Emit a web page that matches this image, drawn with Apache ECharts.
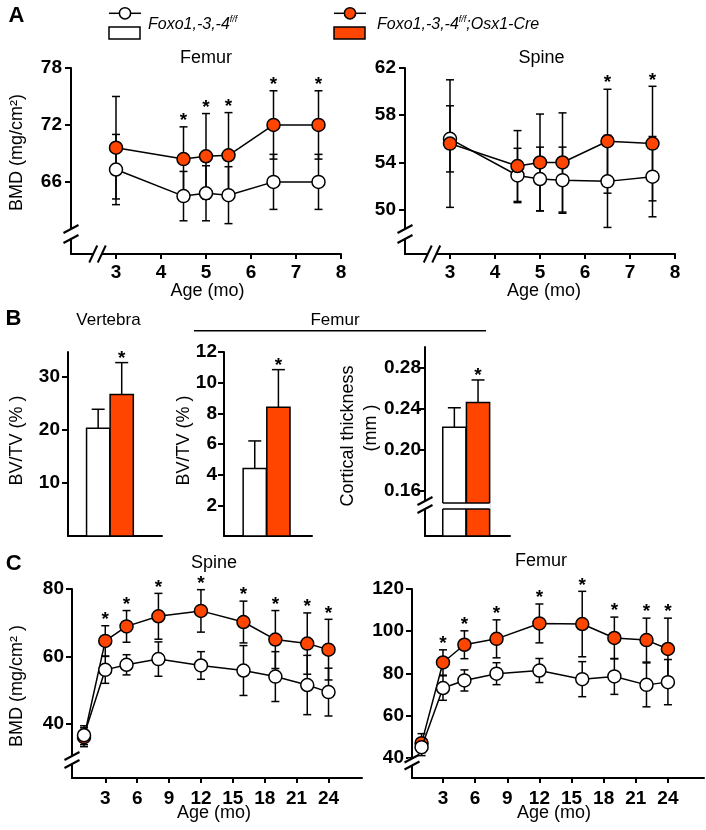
<!DOCTYPE html>
<html><head><meta charset="utf-8">
<script src="https://cdn.jsdelivr.net/npm/echarts@6/dist/echarts.min.js"></script>
<style>html,body{margin:0;padding:0;background:#fff}#c{width:706px;height:830px}</style>
</head><body><div id="c"></div>
<script>
// ---------- DATA ----------
// Panel A (age in months)
const ageA = [3, 4.5, 5, 5.5, 6.5, 7.5];
const ageATicks = [3, 4, 5, 6, 7, 8];
const femurA_ctrl = [67.3, 64.5, 64.8, 64.6, 66.0, 66.0];
const femurA_ctrlErr = [3.7, 2.6, 2.9, 3.0, 2.9, 2.9];
const femurA_cko = [69.6, 68.4, 68.7, 68.8, 72.0, 72.0];
const femurA_ckoErr = [5.4, 3.4, 4.5, 4.5, 3.6, 3.6];
const femurA_sig = [0, 1, 1, 1, 1, 1];
const femurA_yTicks = [66, 72, 78];
const spineA_ctrl = [56.0, 52.9, 52.6, 52.5, 52.4, 52.8];
const spineA_ctrlErr = [2.8, 2.3, 2.7, 2.8, 3.9, 3.4];
const spineA_cko = [55.6, 53.7, 54.0, 54.0, 55.8, 55.6];
const spineA_ckoErr = [5.4, 3.0, 4.1, 4.2, 4.4, 4.85];
const spineA_sig = [0, 0, 0, 0, 1, 1];
const spineA_yTicks = [50, 54, 58, 62];
// Panel B (groups: Foxo1,-3,-4 f/f ; Foxo1,-3,-4 f/f;Osx1-Cre)
const groupsB = ['Foxo1,-3,-4 f/f', 'Foxo1,-3,-4 f/f;Osx1-Cre'];
const vertBVTV = [20.3, 26.7];
const vertBVTVErr = [3.6, 6.0];
const vertSig = [0, 1];
const vertTicks = [10, 20, 30];
const femBVTV = [4.4, 8.4];
const femBVTVErr = [1.8, 2.45];
const femSig = [0, 1];
const femTicks = [2, 4, 6, 8, 10, 12];
const cortTh = [0.222, 0.246];
const cortThErr = [0.019, 0.022];
const cortSig = [0, 1];
const cortTicks = [0.16, 0.20, 0.24, 0.28];
// Panel C (age in months)
const ageC = [1, 3, 5, 8, 12, 16, 19, 22, 24];
const ageCTicks = [3, 6, 9, 12, 15, 18, 21, 24];
const spineC_ctrl = [36.6, 56.0, 57.5, 59.2, 57.3, 55.8, 54.0, 51.5, 49.4];
const spineC_ctrlErr = [2.8, 4.0, 3.0, 5.1, 4.1, 7.4, 7.4, 8.8, 7.1];
const spineC_cko = [36.0, 64.6, 68.9, 71.9, 73.5, 70.2, 65.0, 63.8, 62.0];
const spineC_ckoErr = [2.8, 4.5, 4.7, 6.8, 6.3, 6.2, 8.6, 9.1, 9.0];
const spineC_sig = [0, 1, 1, 1, 1, 1, 1, 1, 1];
const spineC_yTicks = [40, 60, 80];
const femurC_ctrl = [45.1, 73.1, 76.7, 79.9, 81.4, 77.3, 78.6, 74.6, 75.9];
const femurC_ctrlErr = [4.0, 5.8, 5.0, 5.2, 5.7, 8.3, 8.5, 10.4, 10.7];
const femurC_cko = [47.0, 85.2, 93.6, 96.4, 103.7, 103.4, 96.8, 95.8, 91.6];
const femurC_ckoErr = [4.5, 6.0, 6.6, 9.0, 9.2, 15.5, 9.9, 10.4, 14.6];
const femurC_sig = [0, 1, 1, 1, 1, 1, 1, 1, 1];
const femurC_yTicks = [40, 60, 80, 100, 120];

// ---------- STYLE ----------
const FONT = 'Liberation Sans, Arial, Helvetica, sans-serif';
const ORANGE = '#ff4500';
const chart = echarts.init(document.getElementById('c'));

const grids = [
  {left: 71, top: 68, width: 270, height: 186},   // A femur
  {left: 405, top: 68, width: 270, height: 186},  // A spine
  {left: 68, top: 352, width: 94, height: 184},   // B vertebra
  {left: 224, top: 352, width: 88, height: 184},  // B femur
  {left: 425, top: 347, width: 85, height: 189},  // B cortical
  {left: 72, top: 589, width: 290, height: 189},  // C spine
  {left: 412, top: 589, width: 292, height: 189}  // C femur
];

function xAx(g, min, max, ticks, margin) {
  return {gridIndex: g, type: 'value', min, max,
    axisLine: {show: true, onZero: false, lineStyle: {color: '#000', width: 2}},
    axisTick: ticks ? {show: true, customValues: ticks, length: 5, lineStyle: {color: '#000', width: 2}} : {show: false},
    axisLabel: ticks ? {show: true, customValues: ticks, margin: margin, color: '#000', fontFamily: FONT, fontSize: 19, fontWeight: 'bold'} : {show: false},
    splitLine: {show: false}};
}
function yAx(g, min, max, ticks, margin, fmt) {
  return {gridIndex: g, type: 'value', min, max,
    axisLine: {show: true, onZero: false, lineStyle: {color: '#000', width: 2}},
    axisTick: {show: true, customValues: ticks, length: 6, lineStyle: {color: '#000', width: 2}},
    axisLabel: {show: true, customValues: ticks, margin: margin, color: '#000', fontFamily: FONT, fontSize: 19, fontWeight: 'bold',
      formatter: fmt || (v => String(v))},
    splitLine: {show: false}};
}

function starEl(x, y) {
  return {type: 'text', x: x, y: y, style: {text: '*', fill: '#000', fontFamily: FONT, fontSize: 19, fontWeight: 'bold', align: 'center', verticalAlign: 'middle'}};
}
function errSeries(g, xs, m, e, z) {
  return {type: 'custom', xAxisIndex: g, yAxisIndex: g, z: z, silent: true,
    data: xs.map((x, i) => [x, m[i] - e[i], m[i] + e[i]]),
    renderItem(p, api) {
      const lo = api.coord([api.value(0), api.value(1)]);
      const hi = api.coord([api.value(0), api.value(2)]);
      const st = {stroke: '#000', lineWidth: 1.5};
      return {type: 'group', children: [
        {type: 'line', shape: {x1: lo[0], y1: lo[1], x2: hi[0], y2: hi[1]}, style: st},
        {type: 'line', shape: {x1: lo[0] - 4, y1: lo[1], x2: lo[0] + 4, y2: lo[1]}, style: st},
        {type: 'line', shape: {x1: hi[0] - 4, y1: hi[1], x2: hi[0] + 4, y2: hi[1]}, style: st}
      ]};
    }};
}
function lineSeries(g, xs, m, fill, z) {
  return {type: 'line', xAxisIndex: g, yAxisIndex: g, z: z, silent: true,
    data: xs.map((x, i) => [x, m[i]]),
    symbol: 'circle', symbolSize: 13, showSymbol: true,
    lineStyle: {color: '#000', width: 1.5},
    itemStyle: {color: fill, borderColor: '#000', borderWidth: 1.5}};
}
function starSeries(g, xs, m, e, sig) {
  return {type: 'custom', xAxisIndex: g, yAxisIndex: g, z: 8, silent: true,
    data: xs.map((x, i) => [x, m[i] + e[i], sig[i]]),
    renderItem(p, api) {
      if (!api.value(2)) return {type: 'group', children: []};
      const c = api.coord([api.value(0), api.value(1)]);
      return starEl(c[0], c[1] - 6);
    }};
}
function linePanel(g, xs, ctrl, ctrlErr, cko, ckoErr, sig, orangeOnTop) {
  return [
    errSeries(g, xs, ctrl, ctrlErr, 1),
    errSeries(g, xs, cko, ckoErr, 1),
    lineSeries(g, xs, ctrl, '#fff', orangeOnTop ? 3 : 5),
    lineSeries(g, xs, cko, ORANGE, orangeOnTop ? 4 : 3),
    starSeries(g, xs, cko, ckoErr, sig)
  ];
}
function barSeries(g, vals, errs, sig) {
  return {type: 'custom', xAxisIndex: g, yAxisIndex: g, z: 3, silent: true,
    data: vals.map((v, i) => [i + 1, v, errs[i], sig[i], i]),
    renderItem(p, api) {
      const x = api.value(0), v = api.value(1), e = api.value(2);
      const top = api.coord([x, v]), et = api.coord([x, v + e]);
      const base = p.coordSys.y + p.coordSys.height;
      const hw = 11.6, st = {stroke: '#000', lineWidth: 1.5};
      const ch = [
        {type: 'line', shape: {x1: top[0], y1: top[1], x2: et[0], y2: et[1]}, style: st},
        {type: 'line', shape: {x1: et[0] - 6.5, y1: et[1], x2: et[0] + 6.5, y2: et[1]}, style: st},
        {type: 'rect', shape: {x: top[0] - hw, y: top[1], width: 2 * hw, height: base - top[1]},
          style: {fill: api.value(4) ? ORANGE : '#fff', stroke: '#000', lineWidth: 1.5}}
      ];
      if (api.value(3)) ch.push(starEl(et[0], et[1] - 4));
      return {type: 'group', children: ch};
    }};
}

const xAxes = [
  xAx(0, 2, 8, ageATicks, 9),
  xAx(1, 2, 8, ageATicks, 9),
  xAx(2, -0.28, 3.71, null),
  xAx(3, -0.30, 3.42, null),
  xAx(4, -0.24, 3.35, null),
  xAx(5, -0.13, 27.15, ageCTicks, 11),
  xAx(6, 0.106, 27.37, ageCTicks, 11)
];
const yAxes = [
  yAx(0, 58.4, 78, femurA_yTicks, 9),
  yAx(1, 46.25, 62, spineA_yTicks, 9),
  yAx(2, 0, 34.7, vertTicks, 8),
  yAx(3, 0, 12, femTicks, 7),
  yAx(4, 0.1165, 0.30, cortTicks, 4, v => v.toFixed(2)),
  yAx(5, 23.9, 80, spineC_yTicks, 8),
  yAx(6, 30.5, 120, femurC_yTicks, 8)
];

const series = [].concat(
  linePanel(0, ageA, femurA_ctrl, femurA_ctrlErr, femurA_cko, femurA_ckoErr, femurA_sig, true),
  linePanel(1, ageA, spineA_ctrl, spineA_ctrlErr, spineA_cko, spineA_ckoErr, spineA_sig, true),
  [barSeries(2, vertBVTV, vertBVTVErr, vertSig),
   barSeries(3, femBVTV, femBVTVErr, femSig),
   barSeries(4, cortTh, cortThErr, cortSig)],
  linePanel(5, ageC, spineC_ctrl, spineC_ctrlErr, spineC_cko, spineC_ckoErr, spineC_sig, false),
  linePanel(6, ageC, femurC_ctrl, femurC_ctrlErr, femurC_cko, femurC_ckoErr, femurC_sig, false)
);

// ---------- DECORATION (text, legend, axis breaks) ----------
const G = [];
function txt(x, y, text, o) {
  o = o || {};
  G.push({type: 'text', x: x, y: y, rotation: o.rot || 0, z: 100,
    style: Object.assign({text: text, fill: '#000', fontFamily: FONT, fontSize: 18, align: 'center', verticalAlign: 'middle'}, o.style || {})});
}
function vBreak(cx, cy, sep) {
  const h = sep / 2;
  G.push({type: 'rect', z: 100, shape: {x: cx - 4, y: cy - h, width: 8, height: sep}, style: {fill: '#fff'}});
  [-h, h].forEach(d => G.push({type: 'line', z: 101, shape: {x1: cx - 7.5, y1: cy + d + 4, x2: cx + 7.5, y2: cy + d - 4}, style: {stroke: '#000', lineWidth: 2}}));
}
function hBreak(cx, cy, sep) {
  const h = sep / 2;
  G.push({type: 'rect', z: 100, shape: {x: cx - h, y: cy - 4, width: sep, height: 8}, style: {fill: '#fff'}});
  [-h, h].forEach(d => G.push({type: 'line', z: 101, shape: {x1: cx + d - 4, y1: cy + 8.5, x2: cx + d + 4, y2: cy - 8.5}, style: {stroke: '#000', lineWidth: 2}}));
}
// panel letters
txt(16.5, 16, 'A', {style: {fontSize: 22, fontWeight: 'bold'}});
txt(13.5, 319, 'B', {style: {fontSize: 22, fontWeight: 'bold'}});
txt(13.8, 564, 'C', {style: {fontSize: 22, fontWeight: 'bold'}});
// legend
const legStyle = {fontSize: 16, fontStyle: 'italic', align: 'left', lineHeight: 20,
  rich: {s: {fontSize: 9, fontStyle: 'italic', fontFamily: FONT, verticalAlign: 'top', lineHeight: 11}}};
[[125, '#fff', 148, 'Foxo1,-3,-4{s|f/f}'], [350, ORANGE, 377, 'Foxo1,-3,-4{s|f/f};Osx1-Cre']].forEach(L => {
  G.push({type: 'line', z: 100, shape: {x1: L[0] - 16, y1: 13.3, x2: L[0] + 16, y2: 13.3}, style: {stroke: '#000', lineWidth: 1.5}});
  G.push({type: 'circle', z: 101, shape: {cx: L[0], cy: 13.3, r: 5.6}, style: {fill: L[1], stroke: '#000', lineWidth: 1.5}});
  G.push({type: 'rect', z: 100, shape: {x: L[0] - 16, y: 27, width: 31, height: 12}, style: {fill: L[1], stroke: '#000', lineWidth: 1.5}});
  txt(L[2], 25, L[3], {style: legStyle});
});
// titles
txt(206, 58, 'Femur');
txt(541.5, 58, 'Spine');
txt(108.5, 320, 'Vertebra', {style: {fontSize: 17}});
txt(335, 320, 'Femur', {style: {fontSize: 17}});
G.push({type: 'line', z: 100, shape: {x1: 194, y1: 330.7, x2: 486, y2: 330.7}, style: {stroke: '#000', lineWidth: 1.5}});
txt(214, 563.5, 'Spine');
txt(541, 561.5, 'Femur');
// axis names
txt(207.5, 291, 'Age (mo)');
txt(544, 291, 'Age (mo)');
txt(214, 813, 'Age (mo)');
txt(554, 813, 'Age (mo)');
txt(17, 152.5, 'BMD (mg/cm²)', {rot: Math.PI / 2});
txt(17.5, 440.5, 'BV/TV (% )', {rot: Math.PI / 2});
txt(184.5, 440.5, 'BV/TV (% )', {rot: Math.PI / 2});
txt(348.5, 436, 'Cortical thickness', {rot: Math.PI / 2});
txt(371, 428, '(mm )', {rot: Math.PI / 2});
txt(17.5, 686, 'BMD (mg/cm² )', {rot: Math.PI / 2});
// axis breaks
vBreak(71, 234, 10); hBreak(97.5, 254, 8.5);
vBreak(405, 234, 10); hBreak(432, 254, 8.5);
vBreak(72, 760, 8);
vBreak(412, 762, 7);

chart.setOption({
  animation: false,
  backgroundColor: '#fff',
  grid: grids,
  xAxis: xAxes,
  yAxis: yAxes,
  series: series
});

// cortical bar break (positions from the chart's own scale)
const bl = chart.convertToPixel({gridIndex: 4}, [1, 0.16]);
const br = chart.convertToPixel({gridIndex: 4}, [2, 0.16]);
const x0 = bl[0] - 11.6, x1 = br[0] + 11.6;
G.push({type: 'rect', z: 100, shape: {x: x0 - 1, y: 503, width: x1 - x0 + 2, height: 6}, style: {fill: '#fff'}});
G.push({type: 'line', z: 101, shape: {x1: x0, y1: 503, x2: x1, y2: 503}, style: {stroke: '#000', lineWidth: 1.5}});
G.push({type: 'line', z: 101, shape: {x1: x0, y1: 509, x2: x1, y2: 509}, style: {stroke: '#000', lineWidth: 1.5}});
vBreak(425, 505, 8);

chart.setOption({graphic: {elements: G}});
</script></body></html>
